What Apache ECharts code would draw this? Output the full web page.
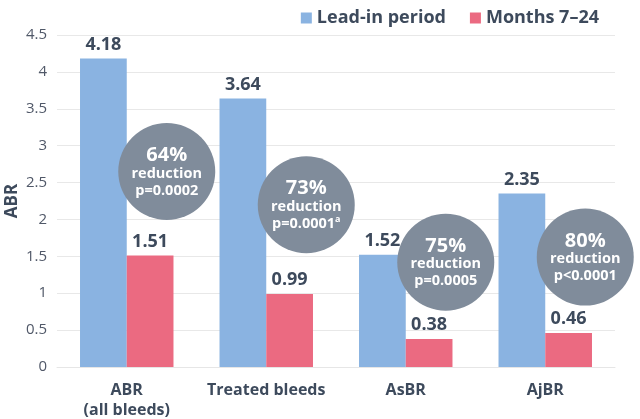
<!DOCTYPE html>
<html>
<head>
<meta charset="utf-8">
<script src="https://cdn.jsdelivr.net/npm/echarts@6/dist/echarts.min.js"></script>
<style>html,body{margin:0;padding:0;background:#fff;}#c{width:640px;height:419px;}</style>
</head>
<body>
<div id="c"></div>
<script>
var categories = ['ABR\n(all bleeds)', 'Treated bleeds', 'AsBR', 'AjBR'];
var leadIn = [4.18, 3.64, 1.52, 2.35];
var months7to24 = [1.51, 0.99, 0.38, 0.46];
var reductionPct = ['64%', '73%', '75%', '80%'];
var pValues = ['p=0.0002', 'p=0.0001', 'p=0.0005', 'p<0.0001'];
var pSup = ['', 'a', '', ''];
var bubbleY = [2.65, 2.2, 1.42, 1.49];
var yTicks = { min: 0, max: 4.5, interval: 0.5 };

var FONT = 'Open Sans';
var DARK = '#3D4A5C';
var chart = echarts.init(document.getElementById('c'), null, { renderer: 'canvas' });
var bubbleData = bubbleY.map(function (v, i) { return [i, v]; });
chart.setOption({
  animation: false,
  textStyle: { fontFamily: FONT },
  legend: {
    top: 4, right: 36, itemWidth: 11, itemHeight: 11, itemGap: 24, icon: 'rect',
    textStyle: { fontSize: 18, fontWeight: 'bold', color: DARK, fontFamily: FONT },
    data: ['Lead-in period', 'Months 7–24']
  },
  grid: { left: 57, right: 25, top: 35, bottom: 52, containLabel: false, outerBoundsMode: 'none' },
  xAxis: {
    type: 'category', data: categories,
    axisLine: { lineStyle: { color: '#E6E6E6', width: 1 } },
    axisTick: { show: false },
    axisLabel: { interval: 0, margin: 13, fontSize: 16, fontWeight: 'bold', color: DARK, lineHeight: 20, fontFamily: FONT }
  },
  yAxis: {
    type: 'value', min: yTicks.min, max: yTicks.max, interval: yTicks.interval,
    name: 'ABR', nameLocation: 'middle', nameGap: 36, nameRotate: 90, nameMoveOverlap: false,
    nameTextStyle: { fontSize: 17, fontWeight: 'bold', color: DARK, fontFamily: FONT },
    axisLine: { show: false }, axisTick: { show: false },
    axisLabel: { margin: 10, fontSize: 15, color: '#505868', fontFamily: FONT },
    splitLine: { lineStyle: { color: '#E8E8E8', width: 1 } }
  },
  series: [
    {
      name: 'Lead-in period', type: 'bar', data: leadIn, barGap: 0, barCategoryGap: '33%',
      itemStyle: { color: '#8AB3E1' },
      label: { show: true, position: 'top', distance: 5, fontSize: 18, fontWeight: 'bold', color: DARK, fontFamily: FONT }
    },
    {
      name: 'Months 7–24', type: 'bar', data: months7to24, barGap: 0, barCategoryGap: '33%',
      itemStyle: { color: '#EB6A81' },
      label: { show: true, position: 'top', distance: 5, fontSize: 18, fontWeight: 'bold', color: DARK, fontFamily: FONT }
    },
    {
      name: 'reduction', type: 'custom', data: bubbleData, clip: false, z: 10,
      renderItem: function (params, api) {
        var i = params.dataIndex;
        var p = api.coord([api.value(0), api.value(1)]);
        var cx = p[0] + 40, cy = p[1];
        var pText = '{b|' + pValues[i] + '}' + (pSup[i] ? '{s|' + pSup[i] + '}' : '');
        return {
          type: 'group',
          children: [
            { type: 'circle', shape: { cx: cx, cy: cy, r: 48.5 }, style: { fill: '#808C9B' } },
            {
              type: 'text', x: cx, y: cy + 1,
              style: {
                text: '{a|' + reductionPct[i] + '}\n{b|reduction}\n' + pText,
                align: 'center', verticalAlign: 'middle', fill: '#fff',
                rich: {
                  a: { fontSize: 20, fontWeight: 'bold', fill: '#fff', lineHeight: 19, fontFamily: FONT },
                  b: { fontSize: 14.5, fontWeight: 'bold', fill: '#fff', lineHeight: 17, fontFamily: FONT },
                  s: { fontSize: 9, fontWeight: 'bold', fill: '#fff', lineHeight: 17, verticalAlign: 'top', fontFamily: FONT }
                }
              }
            }
          ]
        };
      }
    }
  ]
});
</script>
</body>
</html>
